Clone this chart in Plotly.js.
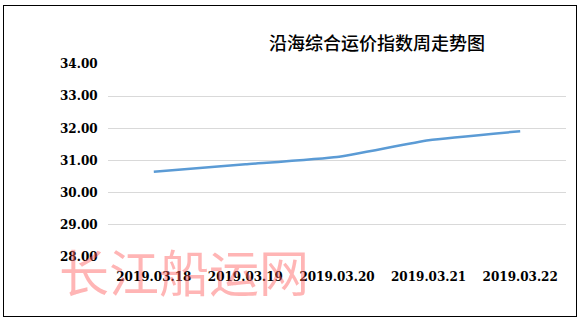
<!DOCTYPE html>
<html>
<head>
<meta charset="utf-8">
<script src="https://cdn.plot.ly/plotly-3.0.1.min.js"></script>
<style>
body{margin:0;padding:0;background:#fff;}
#wrap{position:relative;width:581px;height:322px;}
#chart{position:absolute;left:0;top:0;width:581px;height:322px;}
#frame{position:absolute;left:3px;top:5px;width:572px;height:310px;border:1.5px solid #000;pointer-events:none;}
</style>
</head>
<body>
<div id="wrap"><div id="chart"></div><div id="frame"></div></div>
<script>
const categories = ['2019.03.18','2019.03.19','2019.03.20','2019.03.21','2019.03.22'];
const values = [30.65, 30.88, 31.11, 31.63, 31.91];
const titleText = '沿海综合运价指数周走势图';
const watermark = '长江船运网';

const tickFont = {family:'DejaVu Serif', size:12, color:'#000', weight:'bold'};

Plotly.newPlot('chart', [{
  x: categories,
  y: values,
  type: 'scatter',
  mode: 'lines',
  line: {color:'#5b9bd5', width:2.5, shape:'spline', smoothing:0.4},
  hoverinfo:'none'
}], {
  width:581, height:322,
  margin:{l:108, r:15, t:64, b:65},
  paper_bgcolor:'#fff', plot_bgcolor:'#fff',
  showlegend:false,
  title:{text:titleText, x:377/581, xref:'container', xanchor:'center', y:1-44/322, yref:'container', yanchor:'middle',
         font:{family:'Noto Sans CJK SC, sans-serif', size:18, color:'#000', weight:500}},
  xaxis:{type:'category', range:[-0.5,4.5], showgrid:false, zeroline:false, showline:false,
         ticks:'outside', ticklen:9, tickcolor:'rgba(0,0,0,0)', tickfont:tickFont},
  yaxis:{range:[28,34], dtick:1, tick0:28, tickformat:'.2f', showgrid:true, gridcolor:'#d9d9d9', gridwidth:1,
         zeroline:false, showline:false, ticks:'outside', ticklen:7, tickcolor:'rgba(0,0,0,0)', tickfont:tickFont},
  annotations:[{text:watermark, xref:'paper', yref:'paper', x:(184-108)/458, y:(322-65-270)/193, xanchor:'center', yanchor:'middle',
    showarrow:false, font:{family:'Noto Sans CJK SC, sans-serif', size:50, color:'rgba(255,90,90,0.45)'}}]
}, {staticPlot:true});
</script>
</body>
</html>
